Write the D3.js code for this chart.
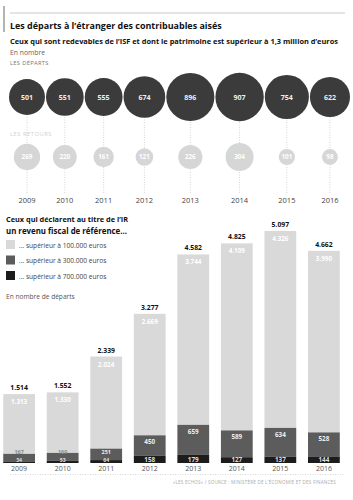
<!DOCTYPE html>
<html><head><meta charset="utf-8">
<script src="https://cdn.jsdelivr.net/npm/d3@7"></script>
<style>
html,body{margin:0;padding:0;background:#fff;}
svg{display:block;font-family:"Open Sans",sans-serif;}
</style></head>
<body>
<script>
const years = [2009, 2010, 2011, 2012, 2013, 2014, 2015, 2016];
const departs = [501, 551, 555, 674, 896, 907, 754, 622];
const retours = [269, 220, 161, 121, 226, 304, 101, 98];
const totals = [1514, 1552, 2339, 3277, 4582, 4825, 5097, 4662];
const over100k = [1313, 1330, 2024, 2669, 3744, 4109, 4326, 3990];
const over300k = [167, 169, 251, 450, 659, 589, 634, 528];
const over700k = [34, 53, 64, 158, 179, 127, 137, 144];
const legendLabels = ["... supérieur à 100.000 euros", "... supérieur à 300.000 euros", "... supérieur à 700.000 euros"];

const W = 353, H = 500;
const fmt = d3.formatLocale({decimal: ",", thousands: ".", grouping: [3], currency: ["", "€"]}).format(",");
const svg = d3.select("body").append("svg").attr("width", W).attr("height", H);

function fit(sel, w) {
  sel.each(function(){
    const fs = +this.getAttribute("font-size");
    const l = this.getComputedTextLength();
    if (l > w) this.setAttribute("font-size", (fs * w / l).toFixed(2));
  });
}

// header
svg.append("line").attr("x1", 10).attr("x2", 345).attr("y1", 13).attr("y2", 13).attr("stroke", "#bbb").attr("stroke-width", 0.8);
svg.append("line").attr("x1", 4).attr("x2", 4).attr("y1", 6).attr("y2", 32).attr("stroke", "#444").attr("stroke-width", 0.8);
svg.append("text").attr("x", 10).attr("y", 29).attr("font-size", 11).attr("font-weight", 700).attr("fill", "#111")
  .text("Les départs à l’étranger des contribuables aisés").call(fit, 212);
svg.append("text").attr("x", 10).attr("y", 44).attr("font-size", 8.2).attr("font-weight", 700).attr("fill", "#111")
  .text("Ceux qui sont redevables de l’ISF et dont le patrimoine est supérieur à 1,3 million d’euros").call(fit, 328);
svg.append("text").attr("x", 10).attr("y", 55).attr("font-size", 6.8).attr("fill", "#666").text("En nombre");
svg.append("text").attr("x", 10).attr("y", 65).attr("font-size", 5.8).attr("fill", "#777").attr("letter-spacing", 0.3).text("LES DÉPARTS");
svg.append("text").attr("x", 10).attr("y", 136).attr("font-size", 5.8).attr("fill", "#d0d0d0").attr("letter-spacing", 0.5).text("LES RETOURS");

// bubbles
const r = d3.scaleSqrt().domain([0, d3.max(departs)]).range([0, 24.2]);
const cx = [];
departs.forEach((d, i) => { cx.push(i === 0 ? 9 + r(d) : cx[i-1] + r(departs[i-1]) + r(d) + 1); });
const cyD = 97, cyR = 157, yearY = 203;

const g1 = svg.append("g");
g1.selectAll("line.v").data(years).join("line")
  .attr("x1", (d, i) => cx[i]).attr("x2", (d, i) => cx[i])
  .attr("y1", cyD).attr("y2", yearY - 10)
  .attr("stroke", "#bbb").attr("stroke-width", 0.6).attr("stroke-dasharray", "1,1.5");
g1.selectAll("circle.d").data(departs).join("circle")
  .attr("cx", (d, i) => cx[i]).attr("cy", cyD).attr("r", d => r(d)).attr("fill", "#3b3b3b");
g1.selectAll("text.d").data(departs).join("text")
  .attr("x", (d, i) => cx[i]).attr("y", cyD + 2.5).attr("text-anchor", "middle")
  .attr("font-size", 7).attr("font-weight", 700).attr("fill", "#eee").text(d => fmt(d));
g1.selectAll("circle.r").data(retours).join("circle")
  .attr("cx", (d, i) => cx[i]).attr("cy", cyR).attr("r", d => r(d)).attr("fill", "#d6d6d6");
g1.selectAll("text.r").data(retours).join("text")
  .attr("x", (d, i) => cx[i]).attr("y", cyR + 2.3).attr("text-anchor", "middle")
  .attr("font-size", 6.3).attr("font-weight", 700).attr("fill", "#fff").text(d => fmt(d));
g1.selectAll("text.y").data(years).join("text")
  .attr("x", (d, i) => cx[i]).attr("y", yearY).attr("text-anchor", "middle")
  .attr("font-size", 7.5).attr("fill", "#444").text(d => d);

// bar chart header + legend
svg.append("text").attr("x", 6).attr("y", 222).attr("font-size", 8.2).attr("font-weight", 700).attr("fill", "#111")
  .text("Ceux qui déclarent au titre de l’IR").call(fit, 122);
svg.append("text").attr("x", 6).attr("y", 234).attr("font-size", 8.2).attr("font-weight", 700).attr("fill", "#111")
  .text("un revenu fiscal de référence...").call(fit, 121);
const colors = ["#d9d9d9", "#5c5c5c", "#1c1c1c"];
const lg = svg.append("g");
lg.selectAll("rect").data(legendLabels).join("rect")
  .attr("x", 6).attr("y", (d, i) => 240 + i * 15.5).attr("width", 9).attr("height", 9).attr("fill", (d, i) => colors[i]);
lg.selectAll("text").data(legendLabels).join("text")
  .attr("x", 19).attr("y", (d, i) => 247.5 + i * 15.5).attr("font-size", 6.6).attr("fill", "#444").text(d => d);
svg.append("text").attr("x", 6).attr("y", 299).attr("font-size", 6.6).attr("fill", "#555").text("En nombre de départs");

// bars
const x = d3.scaleBand().domain(years).range([-2, 345]).paddingInner(0.27).paddingOuter(0.12);
const y = d3.scaleLinear().domain([0, 5097]).range([463, 231]);
const gb = svg.append("g");
const bw = x.bandwidth();
years.forEach((yr, i) => {
  const x0 = x(yr);
  const t7 = over700k[i], t3 = t7 + over300k[i], t1 = t3 + over100k[i];
  gb.append("rect").attr("x", x0).attr("width", bw).attr("y", y(t1)).attr("height", y(t3) - y(t1)).attr("fill", colors[0]);
  gb.append("rect").attr("x", x0).attr("width", bw).attr("y", y(t3)).attr("height", y(t7) - y(t3)).attr("fill", colors[1]);
  gb.append("rect").attr("x", x0).attr("width", bw).attr("y", y(t7)).attr("height", y(0) - y(t7)).attr("fill", colors[2]);
  const cxb = x0 + bw / 2;
  gb.append("text").attr("x", cxb).attr("y", y(totals[i]) - 4).attr("text-anchor", "middle")
    .attr("font-size", 6.8).attr("font-weight", 700).attr("fill", "#111").text(fmt(totals[i]));
  gb.append("text").attr("x", cxb).attr("y", y(t1) + 10).attr("text-anchor", "middle")
    .attr("font-size", 6.3).attr("font-weight", 700).attr("fill", "#fff").text(fmt(over100k[i]));
  const h3 = y(t7) - y(t3);
  const small = h3 < 20;
  const covered = small && (y(t3) < y(0) - 13);
  gb.append("text").attr("x", cxb).attr("y", small ? y(0) - 8.6 : y(t3) + 9).attr("text-anchor", "middle")
    .attr("font-size", small ? 5.4 : 6.3).attr("font-weight", 700)
    .attr("fill", small && !covered ? "#8a8a8a" : "#eee").text(fmt(over300k[i]));
  gb.append("text").attr("x", cxb).attr("y", y(0) - 0.6).attr("text-anchor", "middle")
    .attr("font-size", small ? 5.2 : 6.3).attr("font-weight", 700).attr("fill", "#ddd").text(fmt(over700k[i]));
  gb.append("text").attr("x", cxb).attr("y", 470.5).attr("text-anchor", "middle")
    .attr("font-size", 7).attr("fill", "#555").text(yr);
});
svg.append("line").attr("x1", 10).attr("x2", 345).attr("y1", 474.5).attr("y2", 474.5)
  .attr("stroke", "#bbb").attr("stroke-width", 0.6).attr("stroke-dasharray", "1,1.5");
svg.append("text").attr("x", 336).attr("y", 484).attr("text-anchor", "end").attr("font-size", 4.6).attr("fill", "#aaa")
  .attr("letter-spacing", 0.2).text("«LES ECHOS» / SOURCE : MINISTÈRE DE L’ÉCONOMIE ET DES FINANCES");
</script>
</body></html>
